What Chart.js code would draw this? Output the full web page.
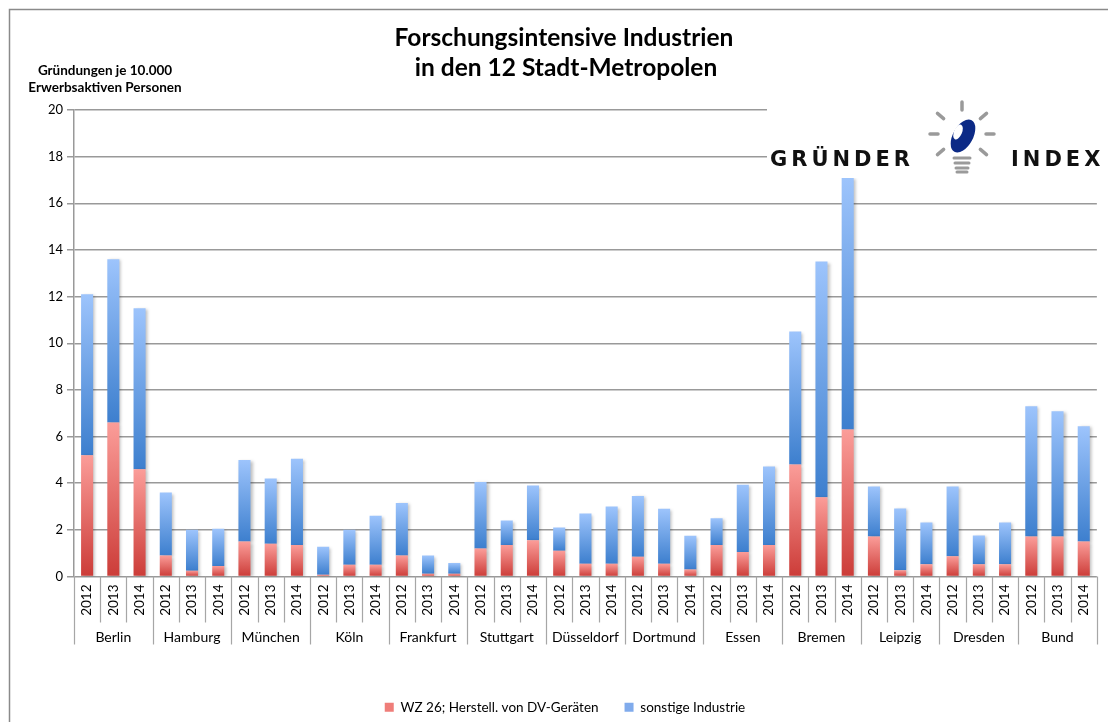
<!DOCTYPE html>
<html>
<head>
<meta charset="utf-8">
<script src="https://cdn.jsdelivr.net/npm/chart.js@4.4.1/dist/chart.umd.min.js"></script>
<style>
  html, body { margin: 0; padding: 0; background: #fff; }
  #wrap { position: relative; width: 1108px; height: 722px; }
</style>
</head>
<body>
<div id="wrap"><canvas id="chart" width="1108" height="722"></canvas></div>
<script>
// ---- data ----
var cities = ['Berlin', 'Hamburg', 'München', 'Köln', 'Frankfurt', 'Stuttgart', 'Düsseldorf',
              'Dortmund', 'Essen', 'Bremen', 'Leipzig', 'Dresden', 'Bund'];
var years = ['2012', '2013', '2014'];

// WZ 26; Herstell. von DV-Geräten
var wz26 = [5.2, 6.6, 4.6,  0.9, 0.25, 0.45,  1.5, 1.4, 1.35,  0.07, 0.5, 0.5,
            0.9, 0.12, 0.12,  1.2, 1.35, 1.55,  1.1, 0.55, 0.55,  0.85, 0.55, 0.3,
            1.35, 1.05, 1.35,  4.8, 3.4, 6.3,  1.72, 0.27, 0.52,  0.87, 0.52, 0.52,
            1.72, 1.72, 1.5];
// sonstige Industrie
var sonstige = [6.9, 7.0, 6.9,  2.7, 1.75, 1.6,  3.5, 2.8, 3.7,  1.21, 1.5, 2.1,
                2.25, 0.78, 0.46,  2.85, 1.05, 2.35,  1.0, 2.15, 2.45,  2.6, 2.35, 1.45,
                1.15, 2.88, 3.37,  5.7, 10.1, 10.78,  2.14, 2.65, 1.8,  2.99, 1.24, 1.8,
                5.58, 5.36, 4.94];

var yTicks = [0, 2, 4, 6, 8, 10, 12, 14, 16, 18, 20];

var labels = [];
cities.forEach(function () { years.forEach(function (y) { labels.push(y); }); });

var FONT = 'Lato, "Open Sans", sans-serif';
var legendColors = ['#ef7d79', '#80abec'];

// vertical gradient for one stacked segment
function segGradient(c, lowVals, highVals, cTop, cBottom, solid) {
    var chart = c.chart;
    if (c.type !== 'data' || !chart.chartArea) return solid;
    var y = chart.scales.y;
    var i = c.dataIndex;
    var lo = lowVals ? lowVals[i] : 0;
    var hi = lo + highVals[i];
    var top = y.getPixelForValue(hi);
    var bot = y.getPixelForValue(lo);
    if (!isFinite(top) || !isFinite(bot) || top === bot) return solid;
    var g = chart.ctx.createLinearGradient(0, top, 0, bot);
    g.addColorStop(0, cTop);
    g.addColorStop(1, cBottom);
    return g;
}

// frame, titles, city labels, separators, logo
var decorations = {
    id: 'decorations',
    beforeDraw: function (chart) {
        var ctx = chart.ctx;
        ctx.save();
        ctx.strokeStyle = '#8a8a8a';
        ctx.lineWidth = 1.5;
        ctx.strokeRect(9.5, 9.5, 1300, 900);
        ctx.restore();
    },
    beforeDatasetsDraw: function (chart) {
        var ctx = chart.ctx;
        ctx.save();
        ctx.shadowColor = 'rgba(0,0,0,0.25)';
        ctx.shadowBlur = 3;
        ctx.shadowOffsetX = 2;
        ctx.shadowOffsetY = 1;
    },
    afterDatasetsDraw: function (chart) {
        chart.ctx.restore();
    },
    afterDraw: function (chart) {
        var ctx = chart.ctx;
        var x = chart.scales.x;
        var area = chart.chartArea;
        var half = (x.getPixelForValue(1) - x.getPixelForValue(0)) / 2;
        ctx.save();

        // title
        ctx.fillStyle = '#000';
        ctx.textAlign = 'center';
        ctx.textBaseline = 'middle';
        ctx.font = 'bold 24.5px ' + FONT;
        ctx.fillText('Forschungsintensive Industrien', 564, 38);
        ctx.fillText('in den 12 Stadt-Metropolen', 566, 68);

        // y axis title
        ctx.font = 'bold 13.5px ' + FONT;
        ctx.fillText('Gründungen je 10.000', 105, 71);
        ctx.fillText('Erwerbsaktiven Personen', 105, 88);

        // category separators
        ctx.strokeStyle = '#a6a6a6';
        ctx.lineWidth = 1.2;
        for (var i = 0; i <= labels.length; i++) {
            var px = Math.round(x.getPixelForValue(i) - half) + 0.5;
            var len = (i % 3 === 0) ? 68 : 46;
            ctx.beginPath();
            ctx.moveTo(px, area.bottom);
            ctx.lineTo(px, area.bottom + len);
            ctx.stroke();
        }

        // city labels
        ctx.fillStyle = '#000';
        ctx.font = '14px ' + FONT;
        cities.forEach(function (c, k) {
            var cx = x.getPixelForValue(k * 3 + 1);
            ctx.fillText(c, cx, area.bottom + 61);
        });

        // logo
        ctx.fillStyle = '#fff';
        ctx.fillRect(767, 100, 345, 78);
        ctx.fillStyle = '#111';
        ctx.textAlign = 'left';
        ctx.textBaseline = 'alphabetic';
        ctx.font = 'bold 21px "DejaVu Sans", sans-serif';
        ctx.letterSpacing = '4px';
        ctx.fillText('GRÜNDER', 770, 166);
        ctx.fillText('INDEX', 1011, 166);
        ctx.letterSpacing = '0px';

        // bulb rays
        var bx = 962, by = 134;
        ctx.strokeStyle = '#9a9a9a';
        ctx.lineCap = 'round';
        ctx.lineWidth = 3.5;
        [-90, -140, -40, 180, 0, 140, 40].forEach(function (a) {
            var r = a * Math.PI / 180;
            ctx.beginPath();
            ctx.moveTo(bx + Math.cos(r) * 24, by + Math.sin(r) * 24);
            ctx.lineTo(bx + Math.cos(r) * 32, by + Math.sin(r) * 32);
            ctx.stroke();
        });
        // bulb base
        ctx.lineWidth = 3;
        [158, 163, 168, 172].forEach(function (yy, k) {
            ctx.beginPath();
            ctx.moveTo(bx - 8 + k, yy);
            ctx.lineTo(bx + 8 - k, yy);
            ctx.stroke();
        });
        // blue mark
        ctx.fillStyle = '#0c2a86';
        ctx.beginPath();
        ctx.ellipse(bx + 1, by + 2, 10, 18, 0.5, 0, Math.PI * 2);
        ctx.fill();
        ctx.fillStyle = '#fff';
        ctx.beginPath();
        ctx.ellipse(bx - 4, by - 2, 4, 8, 0.4, 0, Math.PI * 2);
        ctx.fill();

        ctx.restore();
    }
};

var ctx = document.getElementById('chart').getContext('2d');
var chart = new Chart(ctx, {
    type: 'bar',
    data: {
        labels: labels,
        datasets: [{
            label: 'WZ 26; Herstell. von DV-Geräten',
            data: wz26,
            backgroundColor: function (c) { return segGradient(c, null, wz26, '#fb9d99', '#cc3c38', legendColors[0]); },
            borderWidth: 0
        }, {
            label: 'sonstige Industrie',
            data: sonstige,
            backgroundColor: function (c) { return segGradient(c, wz26, sonstige, '#9dc4fc', '#3d7fce', legendColors[1]); },
            borderWidth: 0
        }]
    },
    options: {
        responsive: false,
        animation: false,
        layout: { padding: { top: 110, left: 26, right: 4, bottom: -2 } },
        datasets: { bar: { categoryPercentage: 1, barPercentage: 0.46 } },
        scales: {
            x: {
                stacked: true,
                grid: { display: false, drawTicks: false },
                border: { display: false },
                ticks: {
                    autoSkip: false,
                    minRotation: 90,
                    maxRotation: 90,
                    padding: 8,
                    color: '#000',
                    font: { family: FONT, size: 13.5 }
                },
                afterFit: function (s) { s.height = 98; }
            },
            y: {
                stacked: true,
                min: 0,
                max: 20,
                afterBuildTicks: function (s) { s.ticks = yTicks.map(function (v) { return { value: v }; }); },
                grid: { color: '#999', lineWidth: 1.5, tickLength: 7, drawTicks: true },
                border: { display: true, color: '#999', width: 1.5 },
                ticks: {
                    padding: 4,
                    color: '#000',
                    font: { family: FONT, size: 13 }
                },
                afterFit: function (s) { s.width = 48; }
            }
        },
        plugins: {
            legend: {
                position: 'bottom',
                labels: {
                    boxWidth: 9,
                    boxHeight: 9,
                    padding: 26,
                    color: '#000',
                    font: { family: FONT, size: 13.5 },
                    generateLabels: function (chart) {
                        var items = Chart.defaults.plugins.legend.labels.generateLabels(chart);
                        items.forEach(function (it, k) {
                            it.fillStyle = legendColors[k];
                            it.strokeStyle = legendColors[k];
                            it.lineWidth = 0;
                        });
                        return items;
                    }
                }
            },
            tooltip: { enabled: false },
            title: { display: false }
        }
    },
    plugins: [decorations]
});
</script>
</body>
</html>
